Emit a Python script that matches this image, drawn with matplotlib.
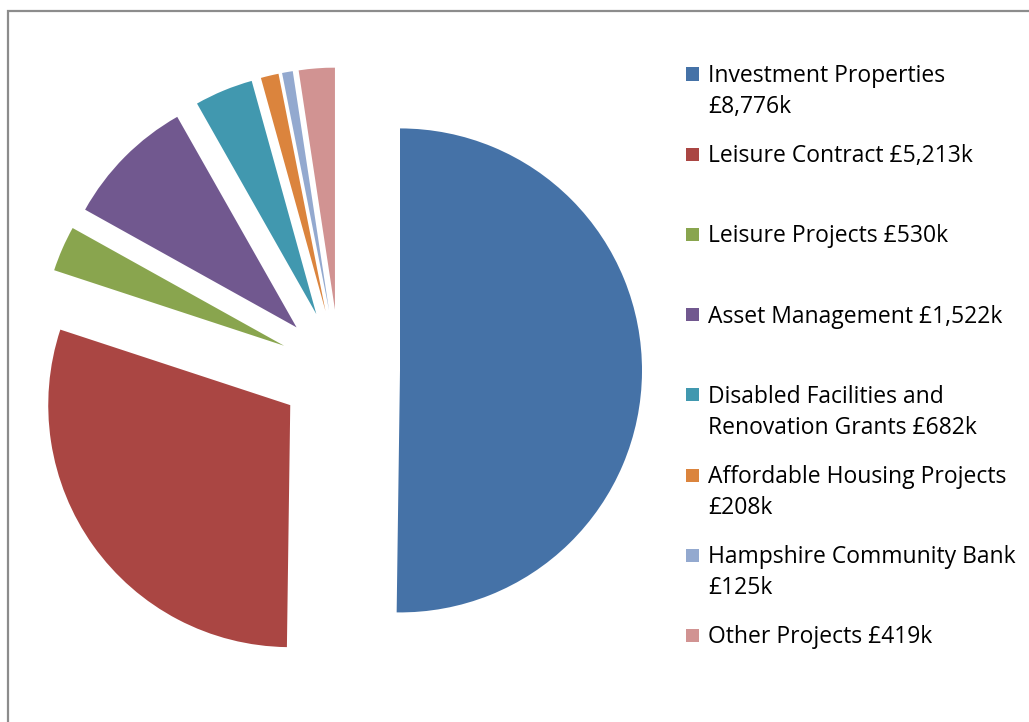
import matplotlib
matplotlib.use("Agg")
import matplotlib.pyplot as plt
from matplotlib.patches import Rectangle

labels = ["Investment Properties\n£8,776k", "Leisure Contract £5,213k", "Leisure Projects £530k",
          "Asset Management £1,522k", "Disabled Facilities and\nRenovation Grants £682k",
          "Affordable Housing Projects\n£208k", "Hampshire Community Bank\n£125k", "Other Projects £419k"]
values = [8776, 5213, 530, 1522, 682, 208, 125, 419]
colors = ["#4572A7", "#AA4643", "#89A54E", "#71588F", "#4198AF", "#DB843D", "#93A9CF", "#D19392"]

W, H = 1029, 722
fig = plt.figure(figsize=(W / 100, H / 100), dpi=100)
ax = fig.add_axes([0, 0, 1, 1])
R = 242.0
cx, cy = 339.5, 370.0
ax.pie(values, colors=colors, startangle=90, counterclock=False,
       explode=[0.25] * len(values), radius=1, wedgeprops=dict(linewidth=0))
ax.set_aspect("auto")
ax.set_xlim(-cx / R, (W - cx) / R)
ax.set_ylim(-(H - cy) / R, cy / R)
ax.axis("off")

# chart border (cropped at right/bottom)
fig.patches.append(Rectangle((8 / W, -0.2), 1.2, 1 - 11 / H + 0.2, transform=fig.transFigure,
                             fill=False, edgecolor="#8c8c8c", linewidth=1.6))

# legend
x_sq, x_txt = 686, 708
y0, step, line_h = 74, 80.2, 31
for i, (lab, col) in enumerate(zip(labels, colors)):
    y = y0 + i * step
    fig.patches.append(Rectangle((x_sq / W, 1 - (y + 6.5) / H), 13 / W, 13 / H,
                                 transform=fig.transFigure, facecolor=col, edgecolor="none"))
    for j, line in enumerate(lab.split("\n")):
        fig.text(x_txt / W, 1 - (y + 8 + j * line_h) / H, line, fontsize=16.5, family="Open Sans",
                 va="baseline", ha="left", color="#000000")

fig.savefig("out.png", dpi=100)
